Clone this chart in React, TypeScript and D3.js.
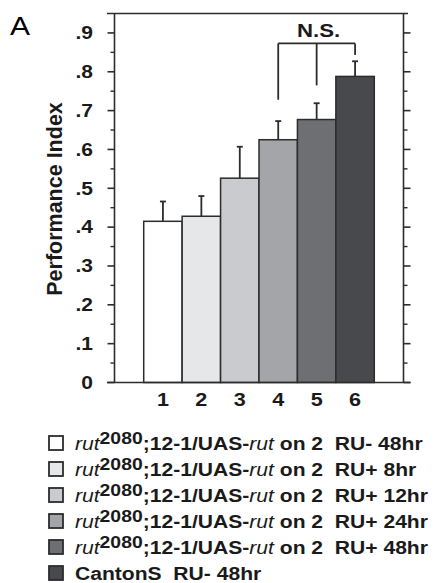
import React from 'react';
import * as d3 from 'd3';

// bar values
const groups = ['1', '2', '3', '4', '5', '6'];
const meanPI = [0.415, 0.428, 0.526, 0.625, 0.677, 0.788];
const semPI = [0.051, 0.052, 0.081, 0.048, 0.042, 0.039];
const barFills = ['#ffffff', '#e6e7e9', '#cacbce', '#a4a5a9', '#6e6f73', '#48494c'];

const majorTicks = [0, 0.1, 0.2, 0.3, 0.4, 0.5, 0.6, 0.7, 0.8, 0.9];
const majorLabels = ['0', '.1', '.2', '.3', '.4', '.5', '.6', '.7', '.8', '.9'];
const minorTicks = [0.05, 0.15, 0.25, 0.35, 0.45, 0.55, 0.65, 0.75, 0.85];

// N.S. bracket between groups 4, 5 and 6
const nsGroups = ['4', '5', '6'];
const nsTop = 0.873;
const nsLegEnds = [0.728, 0.765, 0.843];

const legendSuffix = ['RU- 48hr', 'RU+ 8hr', 'RU+ 12hr', 'RU+ 24hr', 'RU+ 48hr', 'RU- 48hr'];
const legendGenotype = ['rut', 'rut', 'rut', 'rut', 'rut', 'CantonS'];

const W = 441;
const H = 583;
const left = 114.5;
const right = 403.5;
const top = 13.5;
const bottom = 382.5;
const ink = '#2c2c2c';
const sx = 1.2; // text in the figure is stretched sideways

const App = () => {
  const x = d3.scaleBand<string>().domain(groups).range([left, right]).paddingInner(0).paddingOuter(0.76);
  const y = d3.scaleLinear().domain([0, 0.95]).range([bottom, top]);
  const cx = (g: string) => (x(g) as number) + x.bandwidth() / 2;

  const font = "'Liberation Sans', Arial, Helvetica, sans-serif";

  return (
    <svg width={W} height={H} style={{ position: 'absolute', left: 0, top: 0, background: '#fff' }} fontFamily={font}>
      <text transform={`translate(10,35) scale(${sx},1)`} fontSize={25}>A</text>

      {/* frame */}
      <line x1={107} x2={408} y1={top} y2={top} stroke={ink} strokeWidth={1.6} />
      <line x1={left} x2={left} y1={top} y2={bottom} stroke={ink} strokeWidth={1.6} />
      <line x1={right} x2={right} y1={top} y2={bottom} stroke={ink} strokeWidth={1.6} />

      {majorTicks.map((t) => (
        <g key={'M' + t}>
          <line x1={left - 7} x2={left} y1={y(t)} y2={y(t)} stroke={ink} strokeWidth={1.6} />
          <line x1={right} x2={right + 7} y1={y(t)} y2={y(t)} stroke={ink} strokeWidth={1.6} />
        </g>
      ))}
      {minorTicks.map((t) => (
        <g key={'m' + t}>
          <line x1={left - 4} x2={left} y1={y(t)} y2={y(t)} stroke={ink} strokeWidth={1.4} />
          <line x1={right} x2={right + 4} y1={y(t)} y2={y(t)} stroke={ink} strokeWidth={1.4} />
        </g>
      ))}
      {majorTicks.map((t, i) => (
        <text key={'l' + t} transform={`translate(93,${y(t) + 6.3}) scale(${sx},1)`} textAnchor="end"
          fontSize={17.5} fontWeight="bold" fill="#1a1a1a">{majorLabels[i]}</text>
      ))}

      <text transform={`translate(61.5,${(top + bottom) / 2 + 1}) rotate(-90)`} textAnchor="middle"
        fontSize={21.5} fontWeight="bold" fill="#1a1a1a">Performance Index</text>

      {/* bars */}
      {groups.map((g, i) => (
        <rect key={'b' + g} x={x(g)} y={y(meanPI[i])} width={x.bandwidth()} height={bottom - y(meanPI[i])}
          fill={barFills[i]} stroke={ink} strokeWidth={1.5} />
      ))}
      {groups.map((g, i) => {
        const y0 = y(meanPI[i]);
        const y1 = y(meanPI[i] + semPI[i]);
        return (
          <g key={'e' + g} stroke={ink} strokeWidth={1.8}>
            <line x1={cx(g)} x2={cx(g)} y1={y0} y2={y1} />
            <line x1={cx(g) - 3} x2={cx(g) + 3} y1={y1} y2={y1} />
          </g>
        );
      })}

      {/* baseline */}
      <line x1={107} x2={right + 7} y1={bottom} y2={bottom} stroke={ink} strokeWidth={1.6} />

      {groups.map((g) => (
        <text key={'x' + g} transform={`translate(${cx(g)},406) scale(${sx},1)`} textAnchor="middle"
          fontSize={18} fontWeight="bold" fill="#1a1a1a">{g}</text>
      ))}

      {/* N.S. bracket */}
      <g stroke={ink} strokeWidth={1.8} fill="none">
        <line x1={cx(nsGroups[0])} x2={cx(nsGroups[2])} y1={y(nsTop)} y2={y(nsTop)} />
        {nsGroups.map((g, i) => (
          <line key={'ns' + g} x1={cx(g)} x2={cx(g)} y1={y(nsTop)} y2={y(nsLegEnds[i])} />
        ))}
      </g>
      <text transform={`translate(${cx(nsGroups[1]) + 2},37) scale(${sx},1)`} textAnchor="middle"
        fontSize={18.5} fontWeight="bold" fill="#1a1a1a">N.S.</text>

      {/* legend */}
      {legendSuffix.map((s, i) => {
        const cy = 443 + i * 26;
        return (
          <g key={'lg' + i}>
            <rect x={49} y={cy - 7} width={14} height={14} fill={barFills[i]} stroke={ink} strokeWidth={1.8} />
            <text transform={`translate(75,${cy + 6.6}) scale(1.14,1)`} fontSize={18.5} fontWeight="bold"
              fill="#1a1a1a" style={{ whiteSpace: 'pre' }}>
              {legendGenotype[i] === 'rut' ? (
                <>
                  <tspan fontStyle="italic" fontWeight="normal">rut</tspan>
                  <tspan dy={-5.5} fontSize={17}>2080</tspan>
                  <tspan dy={5.5}>;12-1/UAS-</tspan>
                  <tspan fontStyle="italic" fontWeight="normal">rut</tspan>
                  <tspan>{' on 2  ' + s}</tspan>
                </>
              ) : (
                <tspan>{legendGenotype[i] + '  ' + s}</tspan>
              )}
            </text>
          </g>
        );
      })}
    </svg>
  );
};

export default App;
